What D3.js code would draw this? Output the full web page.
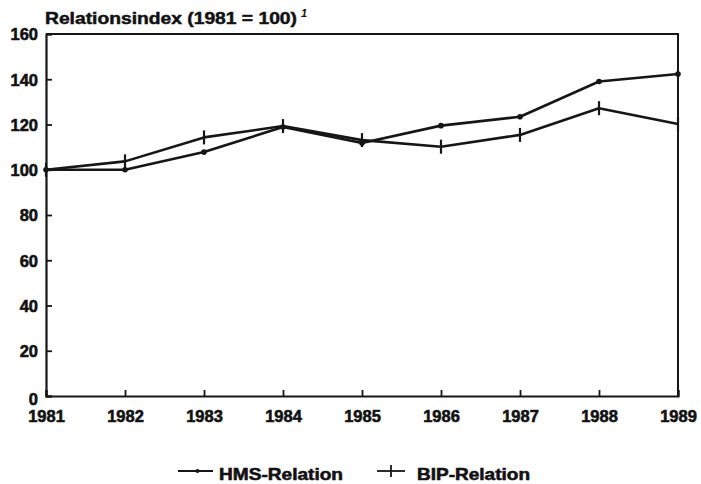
<!DOCTYPE html>
<html>
<head>
<meta charset="utf-8">
<script src="https://cdn.jsdelivr.net/npm/d3@7"></script>
<style>
  html, body { margin: 0; padding: 0; background: #fff; }
  svg text { font-family: "Liberation Sans", Arial, sans-serif; font-weight: bold; fill: #111; }
</style>
</head>
<body>
<svg id="chart" width="701" height="484"></svg>
<script>
// Relation index, 1981 = 100
const years = [1981, 1982, 1983, 1984, 1985, 1986, 1987, 1988, 1989];
const hmsRelation = [100, 100, 107.8, 118.9, 111.8, 119.5, 123.4, 139, 142.3];
const bipRelation = [100, 103.7, 114.3, 119.3, 113.1, 110.2, 115.4, 127.2, 120.2];
const yTicks = [0, 20, 40, 60, 80, 100, 120, 140, 160];
const titleText = "Relationsindex (1981 = 100)";
const legendLabels = ["HMS-Relation", "BIP-Relation"];

const svg = d3.select("#chart");
const margin = { left: 46, right: 23, top: 34, bottom: 88 };
const W = 701, H = 484;

const x = d3.scaleLinear().domain([years[0], years[years.length - 1]])
  .range([margin.left, W - margin.right]);
const y = d3.scaleLinear().domain([0, 160]).range([H - margin.bottom, margin.top]);

const ink = "#161616";

// frame: top and right edges
svg.append("path")
  .attr("d", `M${x(1981)},${y(160)}H${x(1989)}V${y(0)}`)
  .attr("fill", "none").attr("stroke", ink).attr("stroke-width", 2);

// y axis, ticks pointing inward
const yAxis = svg.append("g").attr("transform", `translate(${x(1981)},0)`)
  .call(d3.axisRight(y).tickValues(yTicks).tickSize(6).tickFormat(d3.format("d")));
yAxis.select(".domain").attr("stroke", ink).attr("stroke-width", 2.2);
yAxis.selectAll(".tick line").attr("stroke", ink).attr("stroke-width", 1.8);
yAxis.selectAll(".tick text")
  .attr("x", -8).attr("dy", "0.36em").attr("text-anchor", "end")
  .attr("font-size", 16.5).attr("font-family", null).attr("fill", null)
  .attr("stroke", ink).attr("stroke-width", 0.6);
yAxis.selectAll(".tick").filter(d => d === 0).select("text").attr("dy", 8);

// x axis, ticks pointing up
const xAxis = svg.append("g").attr("transform", `translate(0,${y(0)})`)
  .call(d3.axisTop(x).tickValues(years).tickSize(6).tickFormat(d3.format("d")));
xAxis.select(".domain").attr("stroke", ink).attr("stroke-width", 2.2);
xAxis.selectAll(".tick line").attr("stroke", ink).attr("stroke-width", 1.8);
xAxis.selectAll(".tick text")
  .attr("y", 26).attr("dy", null).attr("text-anchor", "middle")
  .attr("font-size", 16.5).attr("font-family", null).attr("fill", null)
  .attr("stroke", ink).attr("stroke-width", 0.6);

// title with footnote marker
svg.append("text").attr("x", 45).attr("y", 24)
  .attr("font-size", 16.5).attr("stroke", ink).attr("stroke-width", 0.5)
  .attr("textLength", 252).attr("lengthAdjust", "spacingAndGlyphs")
  .text(titleText);
svg.append("text").attr("x", 301).attr("y", 17)
  .attr("font-size", 11).attr("font-style", "italic").text("1");

// series lines
const line = d3.line().x((d, i) => x(years[i])).y(d => y(d));
[hmsRelation, bipRelation].forEach(s => {
  svg.append("path").datum(s).attr("d", line)
    .attr("fill", "none").attr("stroke", ink).attr("stroke-width", 2.6)
    .attr("stroke-linejoin", "round");
});

// HMS markers: small dots
svg.append("g").selectAll("circle").data(hmsRelation).join("circle")
  .attr("cx", (d, i) => x(years[i])).attr("cy", d => y(d)).attr("r", 2.8).attr("fill", ink);

// BIP markers: vertical cross ticks
svg.append("g").selectAll("line").data(bipRelation).join("line")
  .attr("x1", (d, i) => x(years[i])).attr("x2", (d, i) => x(years[i]))
  .attr("y1", d => y(d) - 7).attr("y2", d => y(d) + 7)
  .attr("stroke", ink).attr("stroke-width", 2.2);

// legend
const legY = 471;
const leg = svg.append("g");
const items = [
  { x0: 178, x1: 213, tx: 219, width: 124, label: legendLabels[0], kind: "dot" },
  { x0: 377, x1: 405, tx: 417, width: 113, label: legendLabels[1], kind: "cross" }
];
items.forEach(it => {
  leg.append("line").attr("x1", it.x0).attr("x2", it.x1)
    .attr("y1", legY).attr("y2", legY).attr("stroke", ink).attr("stroke-width", 1.8);
  const mid = (it.x0 + it.x1) / 2;
  if (it.kind === "dot") {
    leg.append("circle").attr("cx", mid + 2).attr("cy", legY).attr("r", 2).attr("fill", ink);
  } else {
    leg.append("line").attr("x1", mid).attr("x2", mid)
      .attr("y1", legY - 6).attr("y2", legY + 6).attr("stroke", ink).attr("stroke-width", 1.8);
  }
  leg.append("text").attr("x", it.tx).attr("y", 480)
    .attr("font-size", 16.5).attr("stroke", ink).attr("stroke-width", 0.6)
    .attr("textLength", it.width).attr("lengthAdjust", "spacingAndGlyphs")
    .text(it.label);
});
</script>
</body>
</html>
